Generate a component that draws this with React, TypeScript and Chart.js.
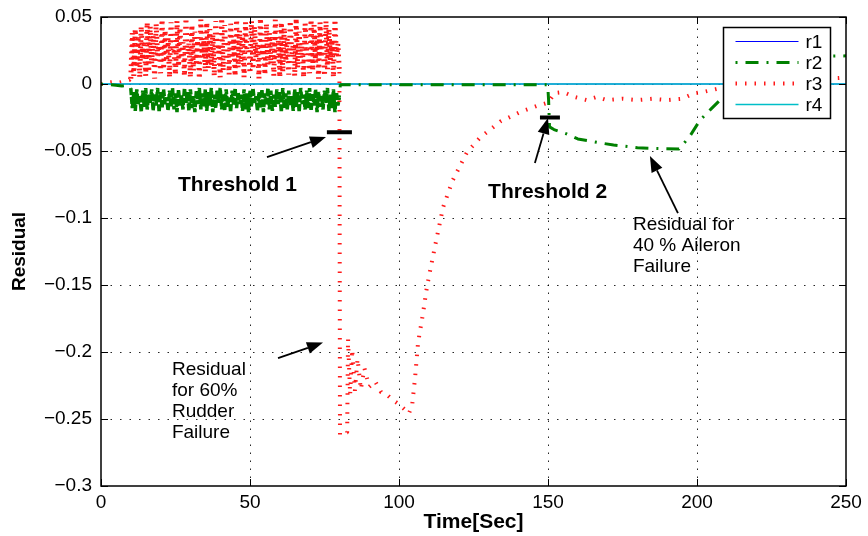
import React, { useEffect, useRef } from "react";
import { Chart, registerables } from "chart.js";

Chart.register(...registerables);

// ---------- axes ----------
const xTicks = [0, 50, 100, 150, 200, 250];
const yTicks = [0.05, 0, -0.05, -0.1, -0.15, -0.2, -0.25, -0.3];
const seriesNames = ["r1", "r2", "r3", "r4"];

// ---------- r1 / r4 (flat at zero) ----------
const r1Times = [0, 250];
const r1Values = [0, 0];
const r4Times = [0, 250];
const r4Values = [0, 0];

// ---------- shared sampling of the oscillating part (10 s .. 80 s) ----------
const noiseStart = 10;
const noiseStep = 0.5;
const noiseEnd = 80;

// ---------- r2 ----------
const r2HeadTimes = [0, 3, 5, 7, 9, 9.8];
const r2HeadValues = [0, -0.0005, -0.001, -0.0015, -0.001, -0.002];
const r2NoiseValues = [
  -0.003, -0.018, -0.006, -0.020, -0.004, -0.015, -0.009, -0.021, -0.005, -0.017,
  -0.003, -0.019, -0.008, -0.014, -0.004, -0.020, -0.007, -0.016, -0.003, -0.021,
  -0.006, -0.018, -0.004, -0.015, -0.010, -0.020, -0.005, -0.017, -0.003, -0.019,
  -0.007, -0.021, -0.004, -0.016, -0.008, -0.019, -0.003, -0.014, -0.006, -0.020,
  -0.004, -0.018, -0.009, -0.021, -0.005, -0.015, -0.003, -0.019, -0.007, -0.017,
  -0.004, -0.020, -0.006, -0.016, -0.003, -0.021, -0.008, -0.018, -0.005, -0.014,
  -0.003, -0.019, -0.007, -0.020, -0.004, -0.017, -0.010, -0.021, -0.005, -0.016,
  -0.003, -0.018, -0.006, -0.015, -0.008, -0.020, -0.004, -0.019, -0.007, -0.021,
  -0.005, -0.017, -0.003, -0.014, -0.009, -0.020, -0.006, -0.018, -0.004, -0.021,
  -0.007, -0.016, -0.003, -0.019, -0.005, -0.020, -0.008, -0.017, -0.004, -0.015,
  -0.006, -0.021, -0.003, -0.018, -0.007, -0.019, -0.005, -0.016, -0.009, -0.020,
  -0.004, -0.017, -0.006, -0.021, -0.003, -0.015, -0.008, -0.019, -0.005, -0.018,
  -0.003, -0.020, -0.007, -0.016, -0.004, -0.021, -0.006, -0.017, -0.009, -0.019,
  -0.005, -0.014, -0.003, -0.020, -0.008, -0.018, -0.004, -0.021, -0.006, -0.016,
  -0.010,
];
const r2TailTimes = [80.3, 100, 120, 149.8, 150, 150.2, 150.5, 152, 156, 160, 167.5, 172, 180, 185, 194, 197.6, 201, 205, 208.4, 212, 218, 224, 250];
const r2TailValues = [-0.0006, -0.0006, -0.0006, -0.0006, -0.0045, -0.012, -0.032, -0.034, -0.037, -0.041, -0.044, -0.0455, -0.0475, -0.048, -0.0485, -0.039, -0.027, -0.018, -0.0105, 0.0, 0.012, 0.02, 0.021];

// ---------- r3 ----------
const r3HeadTimes = [0, 2, 4, 6, 8, 9.5];
const r3HeadValues = [0, 0.001, 0.0015, 0.001, 0.002, 0.003];
const r3NoiseValues = [
  0.004, 0.038, 0.006, 0.041, 0.012, 0.036, 0.005, 0.043, 0.018, 0.032,
  0.006, 0.046, 0.009, 0.043, 0.015, 0.036, 0.004, 0.045, 0.021, 0.029,
  0.008, 0.048, 0.011, 0.040, 0.017, 0.034, 0.005, 0.046, 0.024, 0.027,
  0.007, 0.047, 0.013, 0.042, 0.019, 0.031, 0.006, 0.049, 0.022, 0.030,
  0.005, 0.044, 0.010, 0.039, 0.016, 0.035, 0.004, 0.048, 0.020, 0.033,
  0.009, 0.046, 0.012, 0.041, 0.014, 0.037, 0.006, 0.047, 0.023, 0.028,
  0.005, 0.049, 0.010, 0.044, 0.018, 0.032, 0.007, 0.045, 0.019, 0.034,
  0.006, 0.048, 0.012, 0.040, 0.016, 0.036, 0.005, 0.046, 0.025, 0.026,
  0.008, 0.047, 0.011, 0.043, 0.020, 0.030, 0.004, 0.049, 0.021, 0.031,
  0.007, 0.045, 0.013, 0.038, 0.015, 0.035, 0.006, 0.048, 0.018, 0.033,
  0.005, 0.046, 0.009, 0.042, 0.017, 0.034, 0.007, 0.047, 0.022, 0.029,
  0.006, 0.049, 0.012, 0.039, 0.019, 0.031, 0.005, 0.045, 0.024, 0.027,
  0.008, 0.048, 0.010, 0.044, 0.016, 0.036, 0.004, 0.046, 0.020, 0.032,
  0.006, 0.047, 0.011, 0.041, 0.018, 0.033, 0.005, 0.048, 0.021, 0.030,
  0.009,
];
const r3TailTimes = [
  80.2, 82.6, 82.9, 83.6, 84.3, 85.2, 86.1, 87.2, 88.4, 90,
  92, 94, 96, 98, 100, 102, 103.3, 104.4, 105.4, 106.4,
  108, 109.4, 112, 114.8, 118, 122.8, 127.2, 134, 140.6, 146.3,
  150, 152.3, 155, 159, 163, 166.4, 169.8, 175, 180, 185,
  190, 195, 199, 202, 205, 208, 215, 230, 247.6, 250,
];
const r3TailValues = [
  -0.262, -0.26, -0.19, -0.232, -0.198, -0.229, -0.205, -0.228, -0.212, -0.226,
  -0.222, -0.23, -0.232, -0.236, -0.239, -0.243, -0.246, -0.24, -0.219, -0.193,
  -0.172, -0.151, -0.122, -0.092, -0.072, -0.051, -0.04, -0.028, -0.021, -0.0164,
  -0.014, -0.0067, -0.006, -0.0097, -0.012, -0.0097, -0.012, -0.011, -0.012, -0.011,
  -0.012, -0.011, -0.007, -0.006, -0.0045, -0.003, 0.0, 0.003, 0.0045, 0.005,
];

// ---------- annotations (data coordinates) ----------
const thresholdText = ["Threshold 1", "Threshold 2"];
const thresholdFrom = [75.8, 147.3];
const thresholdTo = [84.2, 154];
const thresholdLevel = [-0.036, -0.025];
const thresholdTextT = [25.8, 129.9];
const thresholdTextY = [-0.0754, -0.0806];

const arrowTailT = [55.7, 145.6, 193.6, 59.4];
const arrowTailY = [-0.0545, -0.059, -0.0963, -0.2045];
const arrowTipT = [75.5, 150, 184.2, 74.5];
const arrowTipY = [-0.0396, -0.0254, -0.0537, -0.193];

const noteLines = [
  ["Residual for", "40 % Aileron", "Failure"],
  ["Residual", "for 60%", "Rudder", "Failure"],
];
const noteT = [178.5, 23.8];
const noteY = [-0.105, -0.2134];

function pts(times: number[], values: number[]) {
  return times.map((t, i) => ({ x: t, y: values[i] }));
}
function buildSeries(headT: number[], headV: number[], noise: number[], tailT: number[], tailV: number[]) {
  const out = pts(headT, headV);
  noise.forEach((v, i) => out.push({ x: noiseStart + i * noiseStep, y: v }));
  return out.concat(pts(tailT, tailV));
}
const inNoise = (c: any) => c.p0.parsed.x >= noiseStart && c.p1.parsed.x <= noiseEnd;

const FONT = "'Liberation Sans', Arial, Helvetica, sans-serif";

function fmtY(v: number) {
  const s = String(Math.round(v * 100) / 100);
  return s.replace("-", "\u2212");
}

const overlay = {
  id: "overlay",
  beforeDatasetsDraw(chart: any) {
    const { ctx, chartArea: a, scales } = chart;
    const x = scales.x, y = scales.y;
    ctx.save();
    ctx.strokeStyle = "rgba(0,0,0,0.85)";
    ctx.lineWidth = 1;
    ctx.setLineDash([1.5, 6.5]);
    for (const t of xTicks) {
      if (t <= 0 || t >= 250) continue;
      const px = Math.round(x.getPixelForValue(t)) + 0.5;
      ctx.beginPath();
      ctx.moveTo(px, a.bottom);
      ctx.lineTo(px, a.top);
      ctx.stroke();
    }
    ctx.setLineDash([1.5, 8]);
    for (const v of yTicks) {
      if (v <= -0.3 || v >= 0.05) continue;
      const py = Math.round(y.getPixelForValue(v)) + 0.5;
      ctx.beginPath();
      ctx.moveTo(a.left, py);
      ctx.lineTo(a.right, py);
      ctx.stroke();
    }
    ctx.restore();
  },
  afterDatasetsDraw(chart: any) {
    const { ctx, chartArea: a, scales } = chart;
    const x = scales.x, y = scales.y;
    ctx.save();
    // frame
    ctx.setLineDash([]);
    ctx.strokeStyle = "#000";
    ctx.lineWidth = 1.5;
    ctx.strokeRect(a.left, a.top, a.right - a.left, a.bottom - a.top);
    // inward ticks
    ctx.lineWidth = 1;
    const tl = 7;
    for (const t of xTicks) {
      const px = Math.round(x.getPixelForValue(t)) + 0.5;
      ctx.beginPath();
      ctx.moveTo(px, a.bottom); ctx.lineTo(px, a.bottom - tl);
      ctx.moveTo(px, a.top); ctx.lineTo(px, a.top + tl);
      ctx.stroke();
    }
    for (const v of yTicks) {
      const py = Math.round(y.getPixelForValue(v)) + 0.5;
      ctx.beginPath();
      ctx.moveTo(a.left, py); ctx.lineTo(a.left + tl, py);
      ctx.moveTo(a.right, py); ctx.lineTo(a.right - tl, py);
      ctx.stroke();
    }
    // threshold bars
    ctx.lineWidth = 4;
    thresholdLevel.forEach((lv, i) => {
      const py = y.getPixelForValue(lv);
      ctx.beginPath();
      ctx.moveTo(x.getPixelForValue(thresholdFrom[i]), py);
      ctx.lineTo(x.getPixelForValue(thresholdTo[i]), py);
      ctx.stroke();
    });
    // arrows
    arrowTailT.forEach((_, i) => {
      const x0 = x.getPixelForValue(arrowTailT[i]), y0 = y.getPixelForValue(arrowTailY[i]);
      const x1 = x.getPixelForValue(arrowTipT[i]), y1 = y.getPixelForValue(arrowTipY[i]);
      const ang = Math.atan2(y1 - y0, x1 - x0);
      const hl = 16, hw = 6;
      const bx = x1 - hl * Math.cos(ang), by = y1 - hl * Math.sin(ang);
      ctx.lineWidth = 1.8;
      ctx.beginPath();
      ctx.moveTo(x0, y0);
      ctx.lineTo(bx, by);
      ctx.stroke();
      ctx.fillStyle = "#000";
      ctx.beginPath();
      ctx.moveTo(x1, y1);
      ctx.lineTo(bx + hw * Math.sin(ang), by - hw * Math.cos(ang));
      ctx.lineTo(bx - hw * Math.sin(ang), by + hw * Math.cos(ang));
      ctx.closePath();
      ctx.fill();
    });
    // texts
    ctx.fillStyle = "#000";
    ctx.textBaseline = "middle";
    ctx.textAlign = "left";
    ctx.font = `bold 21px ${FONT}`;
    thresholdText.forEach((s, i) => {
      ctx.fillText(s, x.getPixelForValue(thresholdTextT[i]), y.getPixelForValue(thresholdTextY[i]));
    });
    ctx.font = `19px ${FONT}`;
    noteLines.forEach((lines, i) => {
      const px = x.getPixelForValue(noteT[i]);
      const py = y.getPixelForValue(noteY[i]);
      lines.forEach((ln, j) => ctx.fillText(ln, px, py + j * 21));
    });
    // legend
    const bw = 107, bh = 91;
    const bx = Math.round(a.right - 16 - bw) + 0.5, by = Math.round(a.top + 10) + 0.5;
    ctx.fillStyle = "#fff";
    ctx.fillRect(bx, by, bw, bh);
    ctx.strokeStyle = "#000";
    ctx.lineWidth = 1.5;
    ctx.strokeRect(bx, by, bw, bh);
    ctx.font = `19px ${FONT}`;
    chart.data.datasets.forEach((ds: any, i: number) => {
      const yy = by + 14 + i * 21;
      ctx.save();
      ctx.strokeStyle = ds.borderColor;
      ctx.lineWidth = ds.borderWidth;
      ctx.lineCap = "butt";
      ctx.setLineDash(ds.borderDash || []);
      ctx.beginPath();
      ctx.moveTo(bx + 12, yy);
      ctx.lineTo(bx + 75, yy);
      ctx.stroke();
      ctx.restore();
      ctx.fillStyle = "#000";
      ctx.fillText(ds.label, bx + 82, yy + 1);
    });
    ctx.restore();
  },
};

export default function App() {
  const ref = useRef<HTMLCanvasElement | null>(null);
  useEffect(() => {
    document.body.style.margin = "0";
    Chart.defaults.font.family = FONT;
    const canvas = ref.current!;
    const chart = new Chart(canvas, {
      type: "line",
      data: {
        datasets: [
          {
            label: seriesNames[0],
            data: pts(r1Times, r1Values),
            borderColor: "rgb(0,0,255)",
            borderWidth: 1,
            pointRadius: 0,
            order: 4,
          },
          {
            label: seriesNames[1],
            data: buildSeries(r2HeadTimes, r2HeadValues, r2NoiseValues, r2TailTimes, r2TailValues),
            borderColor: "rgb(0,128,0)",
            borderWidth: 3,
            borderDash: [2, 8, 13, 8],
            borderJoinStyle: "bevel",
            pointRadius: 0,
            order: 1,
            segment: {
              borderDash: (c: any) => (inNoise(c) ? [7, 2] : undefined),
              borderWidth: (c: any) => (inNoise(c) ? 3.5 : undefined),
            },
          },
          {
            label: seriesNames[2],
            data: buildSeries(r3HeadTimes, r3HeadValues, r3NoiseValues, r3TailTimes, r3TailValues),
            borderColor: "rgba(255,0,0,0.9)",
            borderWidth: 4,
            borderDash: [1.5, 8],
            borderJoinStyle: "bevel",
            pointRadius: 0,
            order: 3,
            segment: {
              borderDash: (c: any) => (inNoise(c) ? [1.8, 4.5] : undefined),
              borderWidth: (c: any) => (inNoise(c) ? 5 : undefined),
            },
          },
          {
            label: seriesNames[3],
            data: pts(r4Times, r4Values),
            borderColor: "rgb(0,190,200)",
            borderWidth: 1.5,
            pointRadius: 0,
            order: 2,
          },
        ] as any,
      },
      options: {
        animation: false,
        responsive: false,
        events: [],
        layout: { padding: { top: 17, right: 22, left: 0, bottom: 0 } },
        plugins: { legend: { display: false }, tooltip: { enabled: false } },
        elements: { line: { tension: 0, borderCapStyle: "butt" } },
        scales: {
          x: {
            type: "linear",
            min: 0,
            max: 250,
            afterFit: (s: any) => { s.height = 50; s.paddingLeft = 0; s.paddingRight = 0; },
            afterBuildTicks: (s: any) => { s.ticks = xTicks.map((v) => ({ value: v })); },
            grid: { display: false, drawTicks: false },
            border: { display: false },
            ticks: {
              padding: 5,
              color: "#000",
              font: { size: 19 },
              maxRotation: 0,
              autoSkip: false,
              callback: (v: any) => String(v),
            },
            title: {
              display: true,
              text: "Time[Sec]",
              color: "#000",
              font: { size: 21, weight: "bold" },
              padding: { top: 0, bottom: 1 },
            },
          },
          y: {
            type: "linear",
            min: -0.3,
            max: 0.05,
            afterFit: (s: any) => { s.width = 101; s.paddingTop = 0; s.paddingBottom = 0; },
            afterBuildTicks: (s: any) => { s.ticks = yTicks.map((v) => ({ value: v })); },
            grid: { display: false, drawTicks: false },
            border: { display: false },
            ticks: {
              padding: 9,
              color: "#000",
              font: { size: 19 },
              autoSkip: false,
              callback: (v: any) => fmtY(Number(v)),
            },
            title: {
              display: true,
              text: "Residual",
              color: "#000",
              font: { size: 19, weight: "bold" },
              padding: { top: 8, bottom: 0 },
            },
          },
        },
      } as any,
      plugins: [overlay],
    });
    return () => chart.destroy();
  }, []);
  return (
    <canvas
      ref={ref}
      width={868}
      height={536}
      style={{ position: "fixed", left: 0, top: 0, display: "block", background: "#fff" }}
    />
  );
}
